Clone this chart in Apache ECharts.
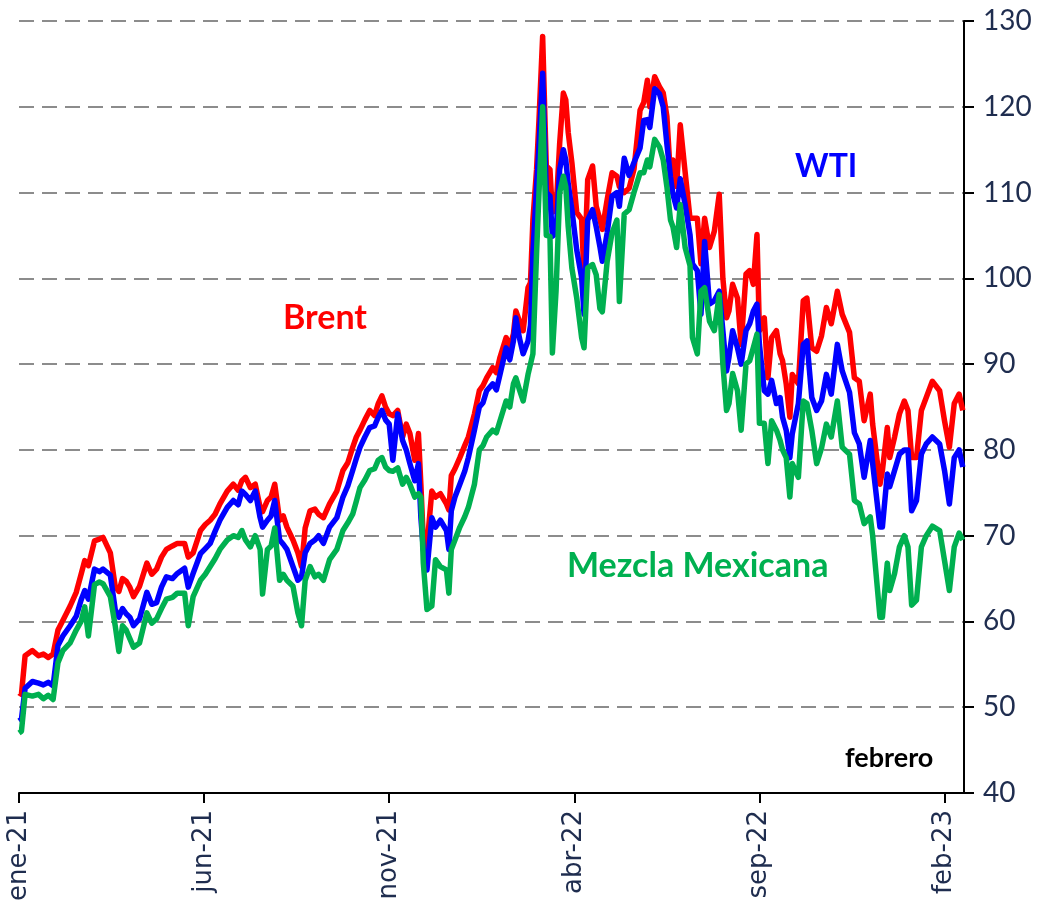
<!DOCTYPE html>
<html>
<head>
<meta charset="utf-8">
<script src="https://cdn.jsdelivr.net/npm/echarts@6/dist/echarts.min.js"></script>
<style>
  html, body { margin: 0; padding: 0; background: #fff; }
  #grafica { width: 1048px; height: 908px; }
</style>
</head>
<body>
<div id="grafica"></div>
<script>
// precios diarios del petroleo (dls/barril), dias desde 1-ene-2021
var dias = [0,2,5,11,16,20,24,28,32,36,42,47,51,54,57,62,66,69,75,79,82,85,88,91,94,99,105,109,113,117,121,126,130,136,139,
  143,149,153,157,161,165,171,176,180,183,186,190,194,198,200,204,207,210,214,217,220,225,229,232,235,239,243,246,250,255,261,266,270,274,277,280,284,288,292,295,298,301,304,307,311,315,318,321,325,328,330,332,335,339,342,346,351,353,355,358,362,366,369,374,378,381,384,389,392,395,400,403,406,408,411,414,418,420,
  422,425,427,430,433,436,438,441,444,447,449,451,454,458,462,464,467,471,474,477,479,483,487,491,493,497,501,505,510,513,516,518,522,526,529,532,535,537,540,543,547,551,553,557,560,563,567,571,575,578,581,583,586,590,593,597,600,603,606,608,612,615,618,622,625,627,630,633,635,640,644,647,651,655,659,663,667,672,676,682,686,690,694,699,701,707,709,713,715,719,723,727,730,733,737,741,745,750,756,760,764,768,772,775];

var brent = [51.7,51.5,56.0,56.6,56.0,56.2,55.8,56.2,59.0,60.1,61.8,63.4,65.5,67.1,66.5,69.4,69.6,69.8,68.0,64.1,63.5,65.0,64.7,64.0,62.9,64.1,66.8,65.5,66.1,67.5,68.4,68.8,69.1,69.1,67.5,
  68.0,70.6,71.3,71.8,72.5,73.7,75.2,76.0,75.3,76.4,76.8,75.6,76.0,73.3,72.8,74.1,74.5,76.0,71.8,72.3,71.0,69.5,68.0,66.4,70.9,72.9,73.1,72.5,72.1,73.7,75.2,77.6,78.5,80.3,81.5,82.3,83.5,84.6,84.0,85.4,86.3,85.0,84.2,84.0,84.6,81.5,83.0,81.9,78.8,81.9,76.0,69.5,68.7,75.2,74.5,74.9,73.7,73.0,77.0,77.8,79.1,80.5,81.5,84.2,86.9,87.5,88.4,89.6,89.0,90.8,93.1,92.0,93.5,96.2,95.0,93.9,98.9,99.5,
  106.8,112.7,118.5,128.2,113.1,112.7,107.7,108.0,115.8,121.6,120.8,117.0,113.5,107.7,106.9,100.0,111.5,113.1,108.4,106.9,105.7,109.2,112.3,111.9,110.7,110.0,110.5,112.7,119.6,120.5,123.1,120.0,123.5,122.3,121.6,118.9,111.8,113.8,110.7,117.9,112.4,107.0,107.0,107.0,101.7,107.0,103.6,105.5,109.8,100.0,95.4,96.2,99.3,97.7,92.3,100.5,100.9,99.3,105.1,93.9,95.4,88.4,93.1,93.9,91.2,90.4,87.7,83.8,88.8,87.7,97.4,97.7,91.9,91.5,93.3,96.6,94.7,98.5,95.8,93.7,88.4,88.0,83.4,86.5,83.0,76.0,77.6,82.6,79.1,81.5,84.2,85.7,84.6,79.1,79.1,84.6,86.1,88.0,86.9,83.4,80.3,85.4,86.5,84.6];

var wti = [48.4,48.6,52.2,53.0,52.8,52.6,52.9,52.5,57.2,58.3,59.5,60.6,62.5,63.6,62.6,66.1,65.8,66.1,65.4,61.4,60.5,61.5,60.9,60.5,59.5,60.3,63.4,62.0,62.2,64.0,65.2,65.0,65.6,66.2,64.0,
  65.6,67.9,68.5,69.1,70.5,71.8,73.3,74.1,73.6,75.2,74.8,74.1,75.2,72.1,71.0,71.8,72.3,74.1,69.5,69.0,68.4,66.4,64.8,65.2,68.0,69.1,69.5,70.0,69.1,71.0,72.1,74.5,75.8,77.6,79.0,80.3,81.5,82.6,82.8,83.8,84.6,83.5,83.0,78.8,84.2,81.1,80.0,78.4,76.4,78.4,72.1,68.4,66.0,72.1,71.0,71.8,70.6,68.4,72.9,74.5,76.0,77.5,79.1,82.3,85.0,85.5,86.9,87.7,87.0,88.8,91.9,90.5,92.7,95.4,93.0,91.2,92.7,94.5,
  102.9,110.7,115.4,123.9,110.0,109.6,104.9,105.3,112.7,115.0,113.8,111.0,108.0,103.3,100.1,95.8,106.8,108.0,106.0,103.7,102.0,105.3,109.6,110.0,108.4,114.0,112.0,113.5,115.2,118.4,118.5,117.6,122.1,121.5,120.0,115.7,111.8,109.8,108.2,111.6,108.6,105.1,101.7,100.9,95.8,104.3,97.0,97.4,98.5,93.9,89.2,90.8,93.9,91.9,90.0,93.9,94.7,96.2,97.0,92.3,86.9,86.5,88.1,85.4,86.1,83.8,82.3,79.1,81.9,85.4,92.3,92.7,86.1,84.6,85.7,88.8,86.5,92.3,89.2,86.7,82.0,80.7,76.8,81.1,78.4,71.0,71.0,77.2,75.7,77.6,79.5,80.0,80.0,72.9,74.1,79.5,80.7,81.5,80.7,77.6,73.7,79.1,80.0,78.0];

var mezcla = [47.0,47.2,51.5,51.3,51.5,51.0,51.4,50.9,55.2,56.6,57.5,59.0,60.0,61.7,58.3,64.3,64.6,64.4,62.9,59.5,56.5,59.5,59.0,58.0,57.0,57.5,61.0,59.8,60.3,61.5,62.6,62.8,63.3,63.3,59.5,
  62.9,64.8,65.5,66.4,67.3,68.4,69.5,70.0,69.8,70.6,69.5,68.7,70.0,68.4,63.2,68.4,68.8,70.9,64.8,65.5,64.8,64.1,61.0,59.5,64.8,66.4,65.2,65.5,64.8,67.2,68.4,70.6,71.5,72.5,74.0,75.6,76.5,77.6,77.8,78.8,79.1,78.0,77.6,77.5,77.9,76.0,76.8,76.0,74.5,74.9,74.5,66.8,61.4,61.8,67.2,66.4,66.0,63.3,68.4,69.5,71.0,72.2,73.3,76.0,80.0,80.5,81.5,82.3,82.0,83.4,85.7,85.0,87.7,88.4,87.0,85.7,88.8,90.0,
  91.2,102.9,110.0,120.0,105.0,104.9,91.3,98.5,110.0,111.9,110.7,106.0,101.2,97.7,93.1,91.9,101.2,101.6,100.4,96.5,96.1,102.0,105.3,106.8,97.3,107.5,108.0,110.0,112.3,112.3,113.8,113.0,116.2,115.3,113.8,110.7,106.8,106.0,103.6,108.6,103.6,101.5,93.1,91.2,98.5,98.9,95.0,93.9,98.1,90.0,84.6,85.4,88.9,86.9,82.3,90.0,90.4,91.9,93.5,83.1,83.1,78.4,83.4,82.3,81.1,80.0,79.1,74.5,78.4,76.8,85.7,85.4,82.3,78.4,80.2,83.0,81.5,85.7,80.3,79.5,74.1,73.7,71.4,72.2,70.0,60.5,60.5,66.8,63.6,65.6,68.7,70.0,68.7,61.9,62.5,68.7,70.0,71.1,70.6,67.1,63.6,68.7,70.3,69.5];

var etiquetasX = ['ene-21', 'jun-21', 'nov-21', 'abr-22', 'sep-22', 'feb-23'];
var posicionesX = [0, 152, 304, 456, 608, 760];

function pares(valores) {
  return dias.map(function (d, i) { return [d, valores[i]]; });
}

var myChart = echarts.init(document.getElementById('grafica'));

var option = {
  animation: false,
  backgroundColor: '#ffffff',
  grid: { left: 19, right: 84, top: 21, bottom: 115 },
  xAxis: {
    type: 'value',
    min: 0,
    max: 776,
    interval: 152,
    axisLine: { show: true, onZero: false, lineStyle: { color: '#000', width: 2 } },
    axisTick: { show: true, length: 10, customValues: posicionesX, lineStyle: { color: '#000', width: 2 } },
    splitLine: { show: false },
    minorSplitLine: { show: false },
    axisLabel: {
      rotate: 90,
      margin: 17,
      customValues: posicionesX,
      fontFamily: 'DejaVu Sans',
      fontSize: 26,
      color: '#1f2d4f',
      formatter: function (v) { return etiquetasX[Math.round(v / 152)] || ''; }
    }
  },
  yAxis: {
    type: 'value',
    position: 'right',
    min: 40,
    max: 130,
    interval: 10,
    axisLine: { show: true, onZero: false, lineStyle: { color: '#000', width: 2 } },
    axisTick: { show: true, length: 10, lineStyle: { color: '#000', width: 2 } },
    splitLine: { show: true, lineStyle: { color: '#8c8c8c', width: 2, type: [15, 8] } },
    axisLabel: { margin: 19, fontFamily: 'Lato', fontSize: 28, color: '#1f2d4f' }
  },
  series: [
    { name: 'Brent', type: 'line', data: pares(brent), showSymbol: false,
      lineStyle: { color: '#ff0000', width: 5.5, join: 'round' } },
    { name: 'WTI', type: 'line', data: pares(wti), showSymbol: false,
      lineStyle: { color: '#0000ff', width: 5.5, join: 'round' } },
    { name: 'Mezcla Mexicana', type: 'line', data: pares(mezcla), showSymbol: false,
      lineStyle: { color: '#00b050', width: 5.5, join: 'round' } }
  ],
  graphic: [
    { type: 'text', x: 283, y: 318, style: { text: 'Brent', fill: '#ff0000', font: 'bold 34px Lato', textVerticalAlign: 'middle' } },
    { type: 'text', x: 795, y: 167, style: { text: 'WTI', fill: '#0000ff', font: 'bold 32px Lato', textVerticalAlign: 'middle' } },
    { type: 'text', x: 567, y: 566, style: { text: 'Mezcla Mexicana', fill: '#00b050', font: 'bold 34px Lato', textVerticalAlign: 'middle' } },
    { type: 'text', x: 845, y: 758, style: { text: 'febrero', fill: '#000000', font: 'bold 27px Lato', textVerticalAlign: 'middle' } }
  ]
};

myChart.setOption(option);
</script>
</body>
</html>
